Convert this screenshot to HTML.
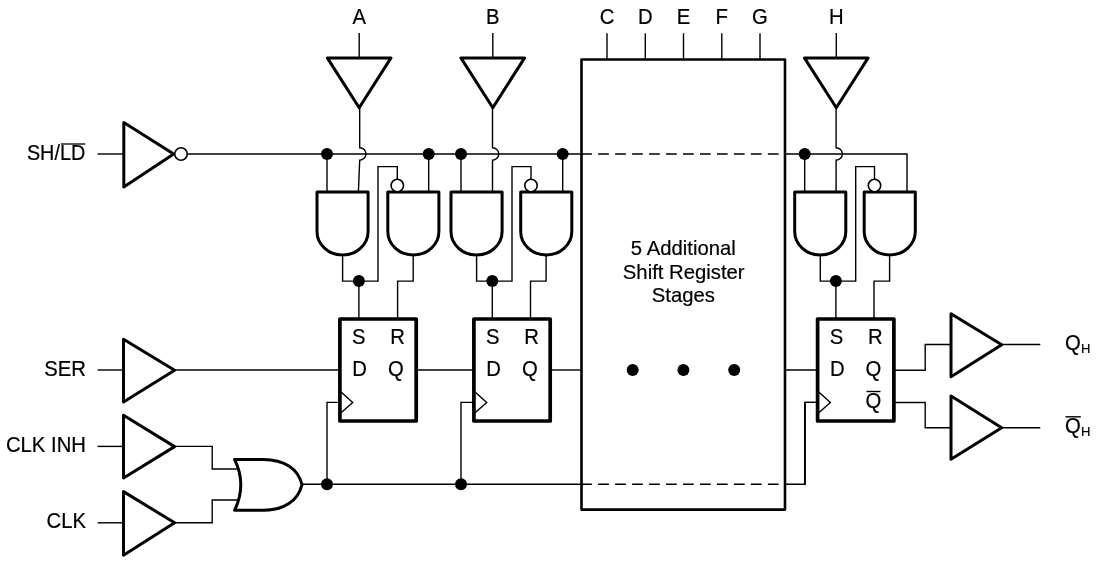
<!DOCTYPE html>
<html><head><meta charset="utf-8">
<style>
html,body{margin:0;padding:0;background:#fff;width:1100px;height:568px;overflow:hidden}
svg{display:block;will-change:transform}
text{font-family:"Liberation Sans",sans-serif;fill:#000;stroke:#000;stroke-width:0.2px}
.w{stroke:#000;stroke-width:1.4;fill:none}
.g{stroke:#000;stroke-width:3.0;fill:none;stroke-linejoin:round}
.ff{stroke:#000;stroke-width:3.7;fill:none;stroke-linejoin:round}
</style></head>
<body>
<svg width="1100" height="568" viewBox="0 0 1100 568">
<rect x="0" y="0" width="1100" height="568" fill="#fff"/>
<g transform="translate(0,0)">
<text transform="translate(359.2,24.0) scale(1,1.12)" font-size="20.3" text-anchor="middle">A</text>
<path class="w" d="M359.2,33 V57.9"/>
<path class="g" d="M327.3,57.9 H391.0 L359.2,107.7 Z"/>
<path class="w" d="M359.7,107.6 V147.7 A6.2,6.2 0 0 1 359.7,160.2 L358.4,192"/>
<path class="w" d="M327,154 V192"/>
<circle cx="327" cy="154" r="6"/>
<path class="g" d="M317.0,192 H368.1 V231.5 A25.55,23.5 0 0 1 317.0,231.5 Z"/>
<path class="g" d="M387.8,192 H438.9 V231.5 A25.55,23.5 0 0 1 387.8,231.5 Z"/>
<circle cx="397.3" cy="185.5" r="6.2" stroke="#000" stroke-width="1.6" fill="#fff"/>
<path class="w" d="M397.3,179.3 V166.6 H378.0 V281.1 H342.6 V255"/>
<circle cx="358.90000000000003" cy="281.1" r="6"/>
<path class="w" d="M358.90000000000003,281.1 V319"/>
<path class="w" d="M413.2,255 V281.1 H397.6 V319"/>
<rect class="ff" x="339.9" y="319.0" width="76.3" height="102.0"/>
<text transform="translate(358.8,344.0) scale(1,1.08)" font-size="20.3" text-anchor="middle">S</text>
<text transform="translate(397.6,344.2) scale(1,1.08)" font-size="20.3" text-anchor="middle">R</text>
<text transform="translate(359.6,375.6) scale(1,1.1)" font-size="20.3" text-anchor="middle">D</text>
<text transform="translate(395.8,375.6) scale(1,1.1)" font-size="20.3" text-anchor="middle">Q</text>
<path class="w" d="M339.9,391 L352.7,402.4 L339.9,413.8" stroke-width="1.7"/>
<path class="w" d="M339.9,402.4 H327 V484.2"/>
<circle cx="428.7" cy="154" r="6"/>
<circle cx="327" cy="484.2" r="6"/>
<path class="w" d="M428.7,154 V192"/>
</g>
<g transform="translate(134.0,0)">
<text transform="translate(358.8,24.0) scale(1,1.12)" font-size="20.3" text-anchor="middle">B</text>
<path class="w" d="M358.8,33 V57.9"/>
<path class="g" d="M326.90000000000003,57.9 H390.6 L358.8,107.7 Z"/>
<path class="w" d="M358.5,107.6 V147.7 A6.2,6.2 0 0 1 358.5,160.2 L358.5,192"/>
<path class="w" d="M327,154 V192"/>
<circle cx="327" cy="154" r="6"/>
<path class="g" d="M317.0,192 H368.1 V231.5 A25.55,23.5 0 0 1 317.0,231.5 Z"/>
<path class="g" d="M386.7,192 H437.79999999999995 V231.5 A25.55,23.5 0 0 1 386.7,231.5 Z"/>
<circle cx="397.0" cy="185.5" r="6.2" stroke="#000" stroke-width="1.6" fill="#fff"/>
<path class="w" d="M397.0,179.3 V166.6 H378.0 V281.1 H342.6 V255"/>
<circle cx="358.3" cy="281.1" r="6"/>
<path class="w" d="M358.3,281.1 V319"/>
<path class="w" d="M412.09999999999997,255 V281.1 H396.5 V319"/>
<rect class="ff" x="339.9" y="319.0" width="76.3" height="102.0"/>
<text transform="translate(358.8,344.0) scale(1,1.08)" font-size="20.3" text-anchor="middle">S</text>
<text transform="translate(397.6,344.2) scale(1,1.08)" font-size="20.3" text-anchor="middle">R</text>
<text transform="translate(359.6,375.6) scale(1,1.1)" font-size="20.3" text-anchor="middle">D</text>
<text transform="translate(395.8,375.6) scale(1,1.1)" font-size="20.3" text-anchor="middle">Q</text>
<path class="w" d="M339.9,391 L352.7,402.4 L339.9,413.8" stroke-width="1.7"/>
<path class="w" d="M339.9,402.4 H327 V484.2"/>
<circle cx="428.7" cy="154" r="6"/>
<circle cx="327" cy="484.2" r="6"/>
<path class="w" d="M428.7,154 V192"/>
</g>
<g transform="translate(477.7,0)">
<text transform="translate(358.6,24.0) scale(1,1.12)" font-size="20.3" text-anchor="middle">H</text>
<path class="w" d="M358.6,33 V57.9"/>
<path class="g" d="M326.70000000000005,57.9 H390.40000000000003 L358.6,107.7 Z"/>
<path class="w" d="M358.40000000000003,107.6 V147.7 A6.2,6.2 0 0 1 358.40000000000003,160.2 L358.40000000000003,192"/>
<path class="w" d="M327,154 V192"/>
<circle cx="327" cy="154" r="6"/>
<path class="g" d="M317.0,192 H368.1 V231.5 A25.55,23.5 0 0 1 317.0,231.5 Z"/>
<path class="g" d="M386.5,192 H437.59999999999997 V231.5 A25.55,23.5 0 0 1 386.5,231.5 Z"/>
<circle cx="396.8" cy="185.5" r="6.2" stroke="#000" stroke-width="1.6" fill="#fff"/>
<path class="w" d="M396.8,179.3 V166.6 H378.0 V281.1 H342.6 V255"/>
<circle cx="358.20000000000005" cy="281.1" r="6"/>
<path class="w" d="M358.20000000000005,281.1 V319"/>
<path class="w" d="M411.9,255 V281.1 H396.3 V319"/>
<rect class="ff" x="339.9" y="319.0" width="76.3" height="102.0"/>
<text transform="translate(358.8,344.0) scale(1,1.08)" font-size="20.3" text-anchor="middle">S</text>
<text transform="translate(397.6,344.2) scale(1,1.08)" font-size="20.3" text-anchor="middle">R</text>
<text transform="translate(359.6,375.6) scale(1,1.1)" font-size="20.3" text-anchor="middle">D</text>
<text transform="translate(395.8,375.6) scale(1,1.1)" font-size="20.3" text-anchor="middle">Q</text>
<path class="w" d="M339.9,391 L352.7,402.4 L339.9,413.8" stroke-width="1.7"/>
<path class="w" d="M339.9,402.4 H327 V484.2"/>
</g>

<!-- Qbar in FF3 -->
<text transform="translate(873.5,407.5) scale(1,1.08)" font-size="20.3" text-anchor="middle">Q</text>
<path d="M866.5,391.5 H880.5" stroke="#000" stroke-width="1.4"/>

<!-- SH/LD -->
<text transform="translate(85.3,159.6) scale(0.977,1.12)" font-size="20.3" text-anchor="end">SH/LD</text>
<path d="M61,144 H85.3" stroke="#000" stroke-width="1.3"/>
<path class="w" d="M97.5,154 H123.8"/>
<path class="g" d="M123.8,122.4 L173.7,153.9 L123.8,186.9 Z"/>
<circle cx="181.0" cy="154" r="6.25" stroke="#000" stroke-width="1.6" fill="#fff"/>
<path class="w" d="M187.2,154 H581.2"/>
<path class="w" d="M581.2,154 H785" stroke-dasharray="10.7 6.27"/>
<path class="w" d="M785,154 H907 V192"/>

<!-- SER -->
<text transform="translate(86,376) scale(1,1.12)" font-size="20.3" text-anchor="end">SER</text>
<path class="w" d="M97.6,370 H123.5"/>
<path class="g" d="M123.5,339.3 L174.6,370.3 L123.5,402 Z"/>
<path class="w" d="M174.6,370 H340"/>
<path class="w" d="M416.2,370 H474"/>
<path class="w" d="M550,370 H581.2"/>
<path class="w" d="M785,370 H817.6"/>

<!-- CLK INH / CLK -->
<text transform="translate(86,452) scale(1,1.12)" font-size="20.3" text-anchor="end">CLK INH</text>
<path class="w" d="M97.6,446.4 H123.5"/>
<path class="g" d="M123.5,415.2 L174.6,446.6 L123.5,478 Z"/>
<text transform="translate(86,528.1) scale(1,1.12)" font-size="20.3" text-anchor="end">CLK</text>
<path class="w" d="M97.6,522.8 H123.5"/>
<path class="g" d="M123.5,491.6 L174.6,522.8 L123.5,555.2 Z"/>
<path class="w" d="M174.6,446.4 H212.2 V469.0 H238"/>
<path class="w" d="M174.6,522.8 H212.2 V500 H238"/>
<path class="g" d="M234.6,459.4 H263.3 C284,459.5 298,468.5 302,484.6 C298,501 284,510.3 263.3,510.3 H234.6 Q247,484.8 234.6,459.4 Z" fill="#fff"/>
<path class="w" d="M302,484.2 H581.2"/>
<path class="w" d="M581.2,484.2 H785" stroke-dasharray="10.7 6.27"/>
<path class="w" d="M785,484.2 H805.2 V402.4 H817.6"/>

<!-- big box -->
<rect x="581.5" y="59.5" width="203.5" height="450.1" stroke="#000" stroke-width="2.6" fill="none" stroke-linejoin="round"/>
<path class="w" d="M607,33.2 V59.5 M645.3,33.2 V59.5 M683.5,33.2 V59.5 M721.8,33.2 V59.5 M760,33.2 V59.5"/>
<text transform="translate(607,24.3) scale(1,1.12)" font-size="20.3" text-anchor="middle">C</text><text transform="translate(645.3,24.3) scale(1,1.12)" font-size="20.3" text-anchor="middle">D</text><text transform="translate(683.5,24.3) scale(1,1.12)" font-size="20.3" text-anchor="middle">E</text><text transform="translate(721.8,24.3) scale(1,1.12)" font-size="20.3" text-anchor="middle">F</text><text transform="translate(760,24.3) scale(1,1.12)" font-size="20.3" text-anchor="middle">G</text>
<text transform="translate(683.3,254.9) scale(1,1.04)" font-size="20.3" text-anchor="middle">5 Additional</text>
<text transform="translate(683.7,278.7) scale(1,1.04)" font-size="20.3" text-anchor="middle">Shift Register</text>
<text transform="translate(683.3,301.8) scale(1,1.04)" font-size="20.3" text-anchor="middle">Stages</text>
<circle cx="632.7" cy="370" r="6"/><circle cx="683.4" cy="370" r="6"/><circle cx="734.2" cy="370" r="6"/>

<!-- output buffers -->
<path class="w" d="M894.9,370.2 H925.2 V344.5 H951"/>
<path class="g" d="M951,313.8 L1001.7,344.7 L951,376.8 Z"/>
<path class="w" d="M1001.7,344.5 H1040.3"/>
<path class="w" d="M894.9,402.5 H925.2 V427.8 H951"/>
<path class="g" d="M951,396 L1001.7,427.8 L951,459.3 Z"/>
<path class="w" d="M1001.7,427.8 H1040.3"/>
<text transform="translate(1065,350.2) scale(1,1.12)" font-size="20.3" text-anchor="start">Q</text><text transform="translate(1081,353.2) scale(1,1.0)" font-size="13" text-anchor="start">H</text>
<text transform="translate(1065,433.2) scale(1,1.12)" font-size="20.3" text-anchor="start">Q</text><text transform="translate(1081,435.5) scale(1,1.0)" font-size="13" text-anchor="start">H</text>
<path d="M1065.5,416.8 H1080.8" stroke="#000" stroke-width="1.4"/>

</svg>
</body></html>
